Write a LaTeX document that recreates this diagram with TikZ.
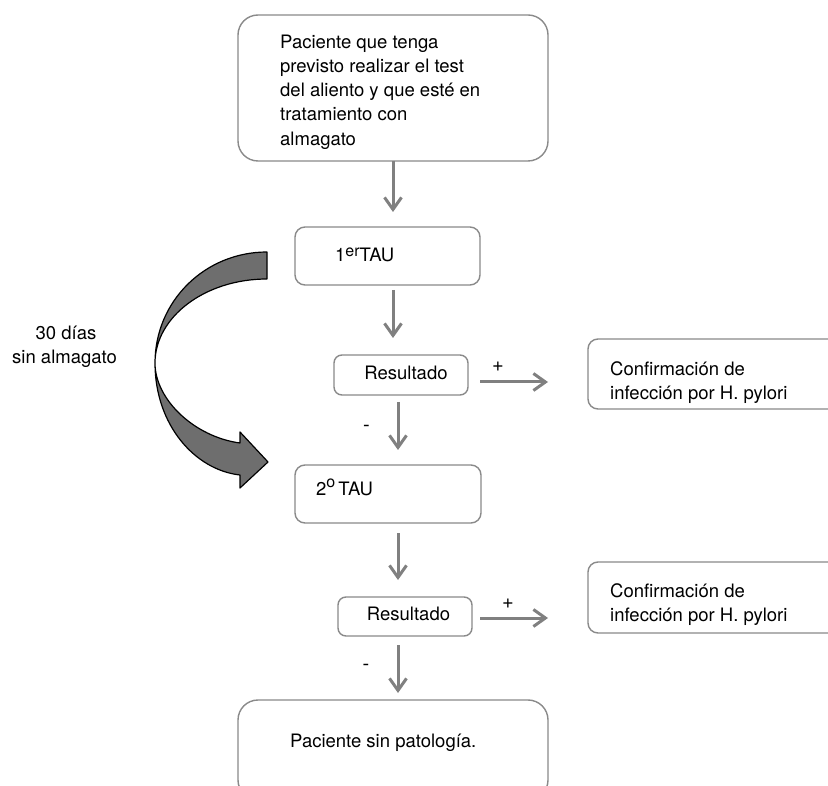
\documentclass[tikz,border=0pt]{standalone}
\usepackage{fontspec}
\setmainfont{TeX Gyre Heros}
\usetikzlibrary{arrows.meta,calc}
\definecolor{boxgray}{HTML}{8A8A8A}
\definecolor{arrgray}{HTML}{808080}
\definecolor{ribbon}{HTML}{6E6E6E}
\newcommand{\supr}[2]{\raisebox{#1}{\fontsize{16}{16}\selectfont #2}}
\begin{document}
\begin{tikzpicture}[x=1pt,y=-1pt,
  box/.style={draw=boxgray,line width=1.4pt,anchor=north west,inner sep=0pt,outer sep=0pt},
  txt/.style={anchor=base west,inner sep=0pt,font=\fontsize{18.5}{24.2}\selectfont},
  ctxt/.style={anchor=base,inner sep=0pt,font=\fontsize{18.5}{24.2}\selectfont},
  flow/.style={draw=arrgray,line width=3pt,-{Straight Barb[length=12pt,width=17pt]}},
  sign/.style={anchor=center,inner sep=0pt,font=\fontsize{20}{22}\selectfont}]
\useasboundingbox (0,0) rectangle (828,786);
\fill[white] (0,0) rectangle (828,786);
\clip (0,0) rectangle (828,786);

% boxes
\node[box,rounded corners=20pt,minimum width=310pt,minimum height=146pt] (top) at (238,15) {};
\node[box,rounded corners=10pt,minimum width=185pt,minimum height=58pt] (b1) at (295,227) {};
\node[box,rounded corners=8pt,minimum width=134pt,minimum height=40pt] (r1) at (334,355) {};
\node[box,rounded corners=10pt,minimum width=260pt,minimum height=70pt] (c1) at (588,339) {};
\node[box,rounded corners=10pt,minimum width=186pt,minimum height=58pt] (b2) at (295,465) {};
\node[box,rounded corners=8pt,minimum width=134pt,minimum height=39pt] (r2) at (338,597) {};
\node[box,rounded corners=10pt,minimum width=260pt,minimum height=71pt] (c2) at (588,562) {};
\node[box,rounded corners=20pt,minimum width=310pt,minimum height=100pt] (bot) at (238,700) {};

% texts
\node[txt,anchor=north west,align=left] (ttop) at (280,34.7)
  {Paciente que tenga\\previsto realizar el test\\del aliento y que esté en\\tratamiento con\\almagato};
\node[txt] (tb1) at (335,262) {1\supr{5pt}{er}TAU};
\node[ctxt] (tr1) at (406,380) {Resultado};
\node[txt,anchor=north west,align=left] (tc1) at (610,361.7) {Confirmación de\\infección por H. pylori};
\node[txt] (tb2) at (316,495) {2\supr{8pt}{o}\,TAU};
\node[ctxt] (tr2) at (408.5,620) {Resultado};
\node[txt,anchor=north west,align=left] (tc2) at (610,583.7) {Confirmación de\\infección por H. pylori};
\node[txt] (tbot) at (290,747) {Paciente sin patología.};
\node[ctxt] (l1) at (66,340) {30 días};
\node[ctxt] (l2) at (64.5,364) {sin almagato};

% column / row coordinates
\coordinate (xa) at (393,0);
\coordinate (xb) at (398,0);
\coordinate (ya) at (0,382);
\coordinate (yb) at (0,618);

% connectors
\draw[flow,shorten >=15pt] (top.south -| xa) -- (b1.north -| xa);
\draw[flow,shorten <=5pt,shorten >=17pt] (b1.south -| xa) -- (r1.north -| xa);
\draw[flow,shorten <=7pt,shorten >=15pt] (r1.south -| xb) -- (b2.north -| xb);
\draw[flow,shorten <=12pt,shorten >=40pt] (r1.east |- ya) -- (c1.west |- ya);
\draw[flow,shorten <=10pt,shorten >=17pt] (b2.south -| xb) -- (r2.north -| xb);
\draw[flow,shorten <=8pt,shorten >=40pt] (r2.east |- yb) -- (c2.west |- yb);
\draw[flow,shorten <=9pt,shorten >=7pt] (r2.south -| xb) -- (bot.north -| xb);

% signs
\node[sign] (p1) at (498,367) {+};
\node[sign] (p2) at (508,604) {+};
\node[sign] (m1) at (366.5,428) {-};
\node[sign] (m2) at (366,667) {-};

% curved ribbon arrow
\draw[fill=ribbon,draw=black,line width=1.2pt,line join=round]
  (267,252) .. controls (205,252) and (155,301) .. (155,363)
  .. controls (155,425) and (195,470) .. (240,475)
  -- (240,488) -- (268,462) -- (240,432) -- (240,443)
  .. controls (195,437) and (155,400) .. (155,363)
  .. controls (155,317) and (205,279) .. (267,279) -- cycle;
\end{tikzpicture}
\end{document}
